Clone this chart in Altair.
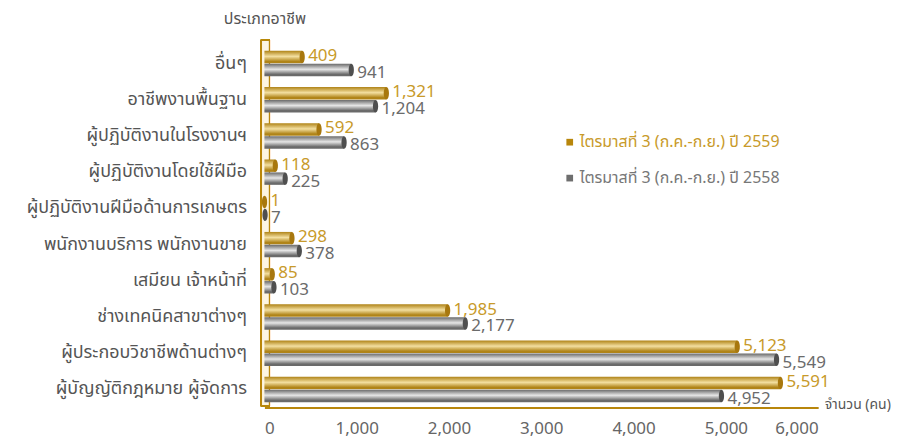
import altair as alt
import pandas as pd

categories = [
    "อื่นๆ",
    "อาชีพงานพื้นฐาน",
    "ผู้ปฏิบัติงานในโรงงานฯ",
    "ผู้ปฏิบัติงานโดยใช้ฝีมือ",
    "ผู้ปฏิบัติงานฝีมือด้านการเกษตร",
    "พนักงานบริการ พนักงานขาย",
    "เสมียน เจ้าหน้าที่",
    "ช่างเทคนิคสาขาต่างๆ",
    "ผู้ประกอบวิชาชีพด้านต่างๆ",
    "ผู้บัญญัติกฎหมาย ผู้จัดการ",
]
values_2559 = [409, 1321, 592, 118, 1, 298, 85, 1985, 5123, 5591]
values_2558 = [941, 1204, 863, 225, 7, 378, 103, 2177, 5549, 4952]
series_names = ["2559", "2558"]
legend_labels = ["ไตรมาสที่ 3 (ก.ค.-ก.ย.) ปี 2559", "ไตรมาสที่ 3 (ก.ค.-ก.ย.) ปี 2558"]
x_ticks = [0, 1000, 2000, 3000, 4000, 5000, 6000]

rows = []
for c, a, b in zip(categories, values_2559, values_2558):
    rows.append({"cat": c, "series": "2559", "value": a})
    rows.append({"cat": c, "series": "2558", "value": b})
df = pd.DataFrame(rows)

FONT = "Tahoma, 'Noto Sans Thai', 'Noto Sans', sans-serif"
GOLD = "#B8860B"
GOLD_TXT = "#C89A2A"
GRAY_TXT = "#6B6B6B"

W, H = 555, 363

yenc = alt.Y("cat:N", sort=categories,
             scale=alt.Scale(paddingInner=0.3, paddingOuter=0.15),
             axis=alt.Axis(title="ประเภทอาชีพ", titleAngle=0, titleX=0, titleY=-27,
                           titleAlign="center", titleBaseline="middle",
                           titleFontSize=16, titleFontWeight="normal", titleColor="#555",
                           titleFont=FONT,
                           labelFont=FONT, labelFontSize=18, labelColor="#555",
                           labelPadding=18, ticks=False, domain=False, labelLimit=300))
xenc = alt.X("value:Q", scale=alt.Scale(domain=[0, 6000], nice=False),
             axis=alt.Axis(values=x_ticks, labelExpr="format(datum.value, ',')",
                           title="จำนวน (คน)",
                           titleX=W + 6, titleY=-3, titleAlign="left",
                           titleBaseline="middle", titleFontSize=14,
                           titleFontWeight="normal", titleColor="#555", titleFont=FONT,
                           labelFont=FONT, labelFontSize=17, labelColor="#666",
                           labelPadding=13, ticks=False, grid=False,
                           domainColor=GOLD, domainWidth=2))
yoff = alt.YOffset("series:N", scale=alt.Scale(domain=series_names, paddingInner=0.04, paddingOuter=0))

base = alt.Chart(df)

# decorative 3D wall on the left
wall = base.mark_rect(
    fill="#FDF5E2", stroke=GOLD, strokeWidth=1.2
).encode(x=alt.value(-3), x2=alt.value(5), y=alt.value(-5), y2=alt.value(H - 2))

def grad(dark, light):
    return alt.Gradient(gradient="linear", x1=0, x2=0, y1=0, y2=1,
                        stops=[alt.GradientStop(color=dark, offset=0),
                               alt.GradientStop(color=light, offset=0.45),
                               alt.GradientStop(color=dark, offset=0.85),
                               alt.GradientStop(color=dark, offset=1)])

bars_gold = base.transform_filter(alt.datum.series == "2559").mark_bar(
    color=grad("#B08418", "#F3DFA0")
).encode(x=xenc, y=yenc, yOffset=yoff)

bars_gray = base.transform_filter(alt.datum.series == "2558").mark_bar(
    color=grad("#6A6A6A", "#E6E6E6")
).encode(x=xenc, y=yenc, yOffset=yoff)

ellipse = "M0,-1 A0.42,1 0 1,1 0,1 A0.42,1 0 1,1 0,-1 Z"
caps = base.mark_point(shape=ellipse, filled=True, size=155, opacity=1).encode(
    x=xenc, y=yenc, yOffset=yoff,
    color=alt.Color("series:N", scale=alt.Scale(domain=series_names, range=["#A8780E", "#4F4F4F"]),
                    legend=None))

labels_gold = base.transform_filter(alt.datum.series == "2559").mark_text(
    align="left", baseline="middle", dx=6, dy=-1, font=FONT, fontSize=17, color=GOLD_TXT
).encode(x=xenc, y=yenc, yOffset=yoff, text=alt.Text("value:Q", format=","))

labels_gray = base.transform_filter(alt.datum.series == "2558").mark_text(
    align="left", baseline="middle", dx=6, dy=3, font=FONT, fontSize=17, color=GRAY_TXT
).encode(x=xenc, y=yenc, yOffset=yoff, text=alt.Text("value:Q", format=","))

leg_layers = []
sq_colors = ["#B8860B", "#6E6E6E"]
txt_colors = [GOLD_TXT, "#777777"]
leg_y = [97, 133]
for i, lab in enumerate(legend_labels):
    d = pd.DataFrame({"label": [lab]})
    leg_layers.append(alt.Chart(d).mark_square(size=45, filled=True, opacity=1, color=sq_colors[i]).encode(
        x=alt.value(306), y=alt.value(leg_y[i])))
    leg_layers.append(alt.Chart(d).mark_text(align="left", baseline="middle", font=FONT, fontSize=16,
                                             color=txt_colors[i]).encode(
        x=alt.value(316), y=alt.value(leg_y[i]), text="label:N"))

chart = alt.layer(wall, bars_gold, bars_gray, caps, labels_gold, labels_gray, *leg_layers).properties(
    width=W, height=H,
    background="white",
    autosize=alt.AutoSizeParams(type="none"),
    padding={"left": 257, "top": 37, "right": 75, "bottom": 33},
).configure_view(stroke=None)

chart.save("out.html", embed_options={"renderer": "svg", "actions": False})
